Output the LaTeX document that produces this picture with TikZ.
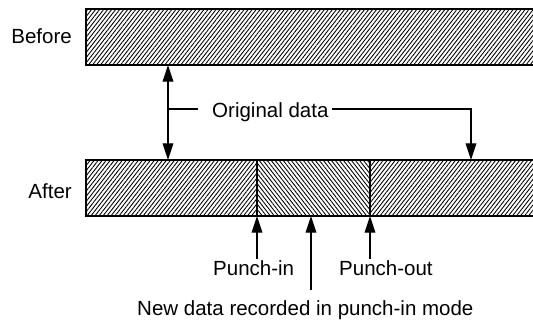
\documentclass[tikz,border=0pt]{standalone}
\usepackage{fontspec}
\setmainfont{Liberation Sans}
\usetikzlibrary{arrows.meta,patterns.meta}

\begin{document}
\begin{tikzpicture}[
    x=0.03cm, y=-0.03cm,
    label/.style={inner sep=0pt, font=\fontsize{17.5}{20}\selectfont},
    hatchR/.style={pattern={Lines[angle=52, distance=2.7pt, line width=0.75pt]}},
    hatchL/.style={pattern={Lines[angle=-52, distance=2.7pt, line width=0.75pt]}},
    edge/.style={line width=1.3pt},
    conn/.style={line width=1.1pt},
    head/.style={Triangle[length=5mm, width=3.2mm]},
    tip/.style={-{Triangle[length=5mm, width=3.2mm]}}
  ]
    \useasboundingbox (0,0) rectangle (533,322);

    % tracks
    \fill[hatchR] (86,9) rectangle (533,65);
    \draw[edge] (533,9) -- (86,9) -- (86,65) -- (533,65);
    \fill[hatchR] (86,160) rectangle (257,216);
    \fill[hatchL] (257,160) rectangle (370,216);
    \fill[hatchR] (370,160) rectangle (533,216);
    \draw[edge] (533,160) -- (86,160) -- (86,216) -- (533,216);
    \draw[conn] (257,160) -- (257,216);
    \draw[conn] (370,160) -- (370,216);

    % labels
    \node[label, anchor=base east] (before) at (72,43) {Before};
    \node[label, anchor=base east] (after) at (72,198) {After};
    \node[label, anchor=base west] (orig) at (212,117) {Original data};
    \node[label, anchor=base west] (pin) at (213,275) {Punch-in};
    \node[label, anchor=base west] (pout) at (339,275) {Punch-out};
    \node[label, anchor=base west] (newdata) at (137,315) {New data recorded in punch-in mode};

    % arrow ends
    \coordinate (bfbot) at (168,65);
    \coordinate (aftop) at (168,160);
    \coordinate (fork) at (168,109);
    \coordinate (aftop2) at (471,160);
    \coordinate (inpt) at (257,216);
    \coordinate (midpt) at (311,216);
    \coordinate (outpt) at (370,216);

    % connectors
    \draw[conn, {Triangle[length=5mm, width=3.2mm]}-{Triangle[length=5mm, width=3.2mm]}] (bfbot) -- (aftop);
    \draw[conn] (fork) -- ++(30,0);
    \draw[conn, tip] ([xshift=3pt]orig.east |- fork) -| (aftop2);
    \draw[conn, tip] (pin.north -| inpt) ++(0,-1) -- (inpt);
    \draw[conn, tip] (311,290) -- (midpt);
    \draw[conn, tip] (pout.north -| outpt) ++(0,-1) -- (outpt);
\end{tikzpicture}
\end{document}
